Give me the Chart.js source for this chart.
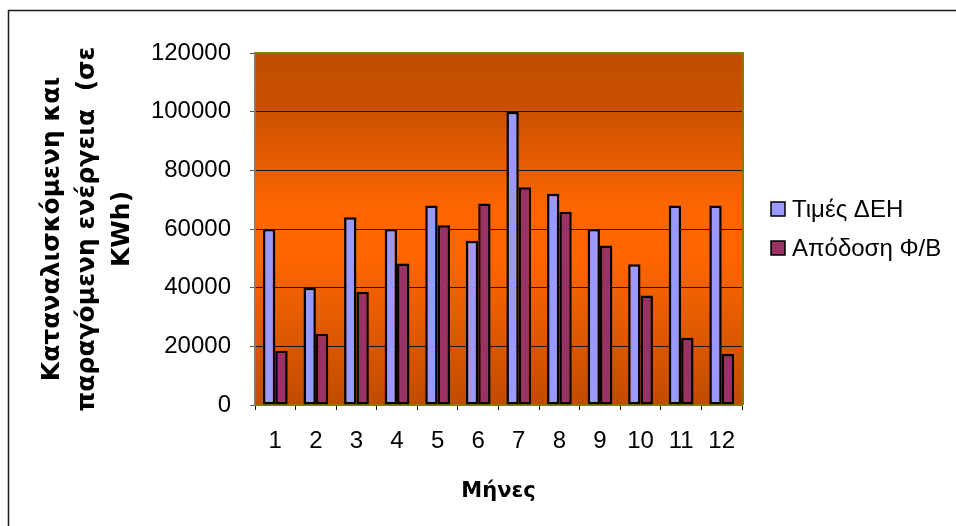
<!DOCTYPE html>
<html>
<head>
<meta charset="utf-8">
<script src="https://cdn.jsdelivr.net/npm/chart.js@4/dist/chart.umd.min.js"></script>
<style>
  html, body { margin: 0; padding: 0; background: #fff; }
  #wrap { width: 956px; height: 526px; }
</style>
</head>
<body>
<div id="wrap"><canvas id="chart" width="956" height="526"></canvas></div>
<script>
// months on the x axis
const months = ['1', '2', '3', '4', '5', '6', '7', '8', '9', '10', '11', '12'];
// Τιμές ΔΕΗ (KWh)
const deiValues = [60000, 40000, 64000, 60000, 68000, 56000, 100000, 72000, 60000, 48000, 68000, 68000];
// Απόδοση Φ/Β (KWh)
const pvValues = [18500, 24300, 38600, 48200, 61300, 68700, 74200, 65900, 54400, 37300, 22900, 17400];
const seriesNames = ['Τιμές ΔΕΗ', 'Απόδοση Φ/Β'];
const yTitle = ['Καταναλισκόμενη και', 'παραγόμενη ενέργεια  (σε', 'KWh)'];
const xTitle = 'Μήνες';

const FONT = "'Liberation Sans', Arial, sans-serif";
const TITLE_FONT = "'DejaVu Sans', 'Liberation Sans', sans-serif";

// orange gradient behind the bars + outer frame
const backdrop = {
    id: 'backdrop',
    beforeDraw(chart) {
        const { ctx, chartArea: a } = chart;
        ctx.save();
        // outer frame (runs off the bottom/right of the picture)
        ctx.strokeStyle = '#1a1a1a';
        ctx.lineWidth = 1.5;
        ctx.strokeRect(8.5, 10.5, 1200, 1200);
        const g = ctx.createLinearGradient(0, a.top, 0, a.bottom);
        g.addColorStop(0, '#C24D00');
        g.addColorStop(0.15, '#C85100');
        g.addColorStop(0.45, '#FF6600');
        g.addColorStop(0.58, '#FF6600');
        g.addColorStop(1, '#C04C00');
        ctx.fillStyle = g;
        ctx.fillRect(a.left, a.top, a.right - a.left, a.bottom - a.top);
        ctx.restore();
    },
    afterDraw(chart) {
        const { ctx, chartArea: a } = chart;
        ctx.save();
        // olive border on top and right of the plot
        ctx.strokeStyle = '#808000';
        ctx.lineWidth = 2;
        ctx.beginPath();
        ctx.moveTo(a.left, a.top);
        ctx.lineTo(a.right + 1, a.top);
        ctx.lineTo(a.right + 1, a.bottom);
        ctx.stroke();

        // legend
        ctx.font = '24px ' + FONT;
        ctx.textBaseline = 'middle';
        ctx.textAlign = 'left';
        chart.data.datasets.forEach((ds, i) => {
            const cy = 209 + i * 39;
            ctx.fillStyle = ds.backgroundColor;
            ctx.fillRect(771, cy - 7, 14, 14);
            ctx.strokeStyle = '#000';
            ctx.lineWidth = 1.5;
            ctx.strokeRect(771, cy - 7, 14, 14);
            ctx.fillStyle = '#000';
            ctx.fillText(ds.label, 792, cy + 1);
        });
        ctx.restore();
    }
};

new Chart(document.getElementById('chart'), {
    type: 'bar',
    data: {
        labels: months,
        datasets: [{
            label: seriesNames[0],
            data: deiValues,
            backgroundColor: '#9999FF',
            borderColor: '#000000',
            borderWidth: 2.5,
            borderSkipped: false
        }, {
            label: seriesNames[1],
            data: pvValues,
            backgroundColor: '#993366',
            borderColor: '#000000',
            borderWidth: 2.5,
            borderSkipped: false
        }]
    },
    options: {
        responsive: false,
        animation: false,
        layout: { padding: { top: 53, right: 214, bottom: 0, left: 0 } },
        datasets: { bar: { categoryPercentage: 0.61, barPercentage: 1 } },
        plugins: {
            legend: { display: false },
            tooltip: { enabled: false }
        },
        scales: {
            x: {
                afterFit: (s) => { s.height = 121; },
                grid: {
                    offset: true,
                    drawOnChartArea: false,
                    tickLength: 5,
                    tickColor: '#000'
                },
                border: { color: '#808000', width: 2 },
                ticks: {
                    color: '#000',
                    padding: 17,
                    font: { family: FONT, size: 24 }
                },
                title: {
                    display: true,
                    text: xTitle,
                    color: '#000',
                    padding: { top: 0, bottom: 22 },
                    font: { family: TITLE_FONT, size: 21, weight: 'bold' }
                }
            },
            y: {
                min: 0,
                max: 120000,
                afterFit: (s) => { s.width = 255; },
                ticks: {
                    stepSize: 20000,
                    color: '#000',
                    padding: 19,
                    font: { family: FONT, size: 24 },
                    callback: (v) => String(v)
                },
                grid: {
                    color: 'rgba(20,8,0,0.9)',
                    lineWidth: 1,
                    tickLength: 5,
                    tickColor: '#555'
                },
                border: { color: '#808080', width: 1.5 },
                title: {
                    display: true,
                    text: yTitle,
                    color: '#000',
                    padding: { top: 35, bottom: 0 },
                    font: { family: TITLE_FONT, size: 25, weight: 'bold', lineHeight: '35px' }
                }
            }
        }
    },
    plugins: [backdrop]
});
</script>
</body>
</html>
